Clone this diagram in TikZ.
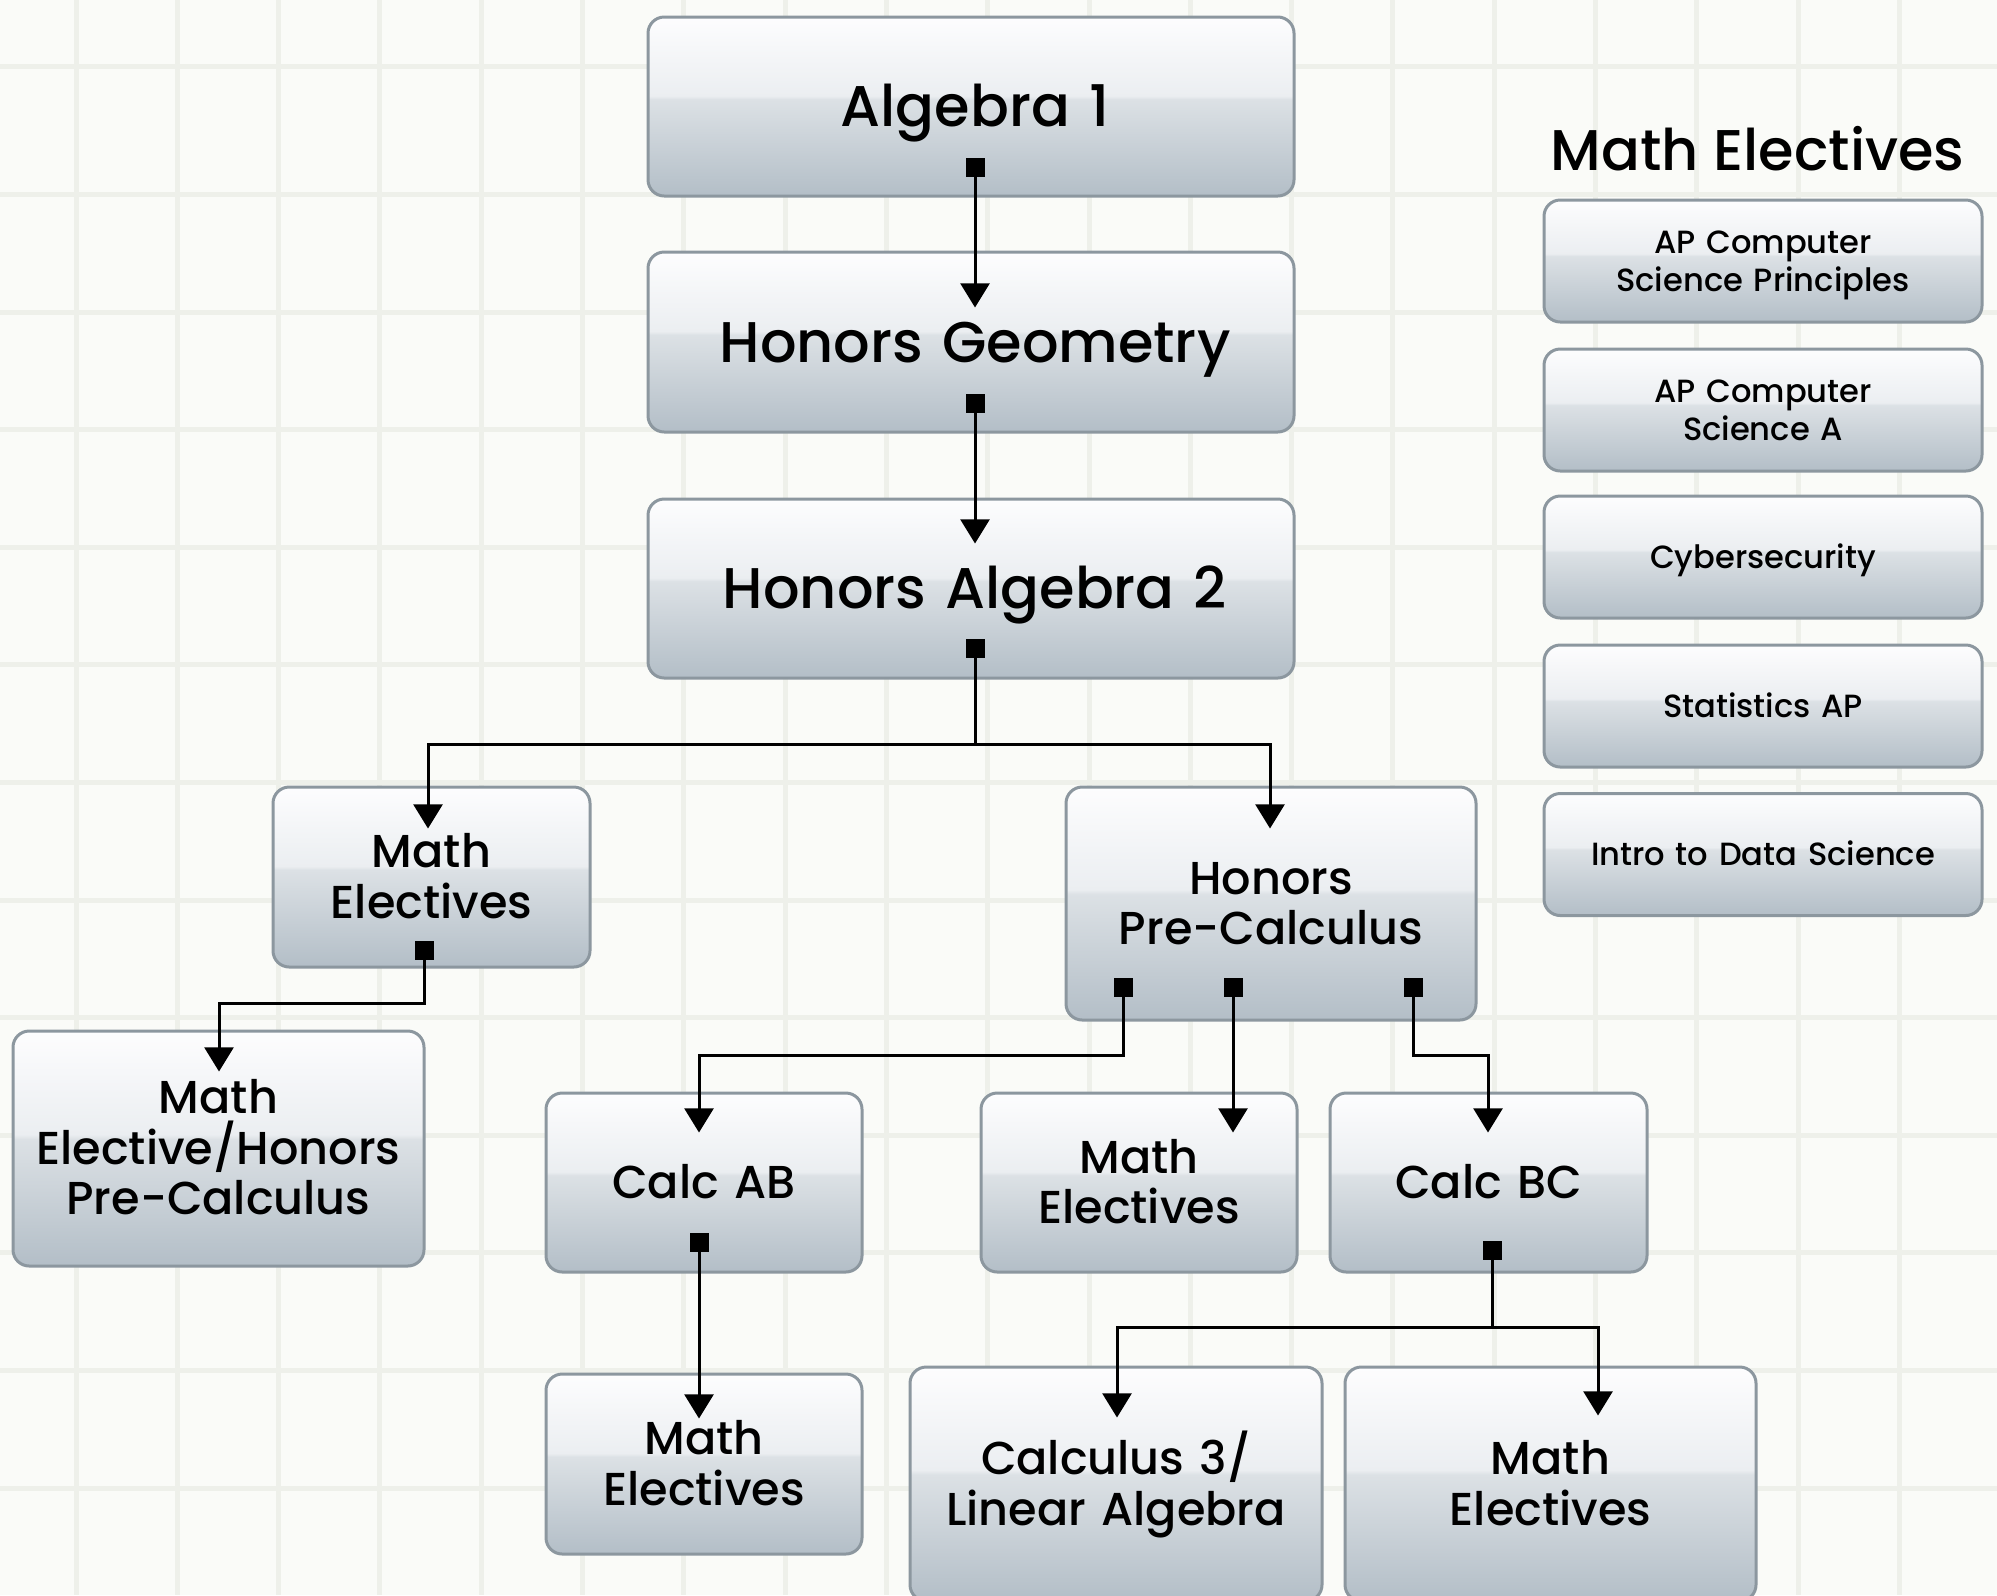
\documentclass[tikz,border=0pt]{standalone}
\usepackage{fontspec}
\setmainfont{Poppins Medium}
\usetikzlibrary{arrows.meta,calc}
\definecolor{bgcol}{HTML}{FAFBF8}
\definecolor{gridcol}{HTML}{EEF0EA}
\definecolor{bordcol}{HTML}{8C979F}
\definecolor{shB}{HTML}{B3BEC7}
\definecolor{shC}{HTML}{DCE1E5}
\definecolor{shD}{HTML}{EBEEF1}
\definecolor{shT}{HTML}{FDFDFE}
\pgfdeclareverticalshading{boxsh}{100bp}{color(0bp)=(shB); color(25bp)=(shB); color(52bp)=(shC); color(53bp)=(shD); color(75bp)=(shT); color(100bp)=(shT)}
\begin{document}
\begin{tikzpicture}[x=0.4pt,y=-0.4pt,
  gridl/.style={draw=gridcol,line width=2pt},
  box/.style 2 args={draw=bordcol,line width=1.2pt,rounded corners=6.5pt,shade,shading=boxsh,
     inner sep=0pt,minimum width=#1*0.4pt,minimum height=#2*0.4pt,text width=#1*0.4pt-6pt,align=center},
  bigtxt/.style={font=\fontsize{22.95}{26}\selectfont,text height=16.2pt,text depth=0pt},
  medone/.style={font=\fontsize{18.45}{20.2}\selectfont,text height=12.6pt,text depth=0pt},
  medtwo/.style={font=\fontsize{18.45}{20.2}\selectfont,text height=12.6pt,text depth=20.2pt},
  medthree/.style={font=\fontsize{18.45}{20.2}\selectfont,text height=12.6pt,text depth=40.4pt},
  smone/.style={font=\fontsize{12.85}{15.1}\selectfont,text height=8.9pt,text depth=0pt},
  smtwo/.style={font=\fontsize{12.85}{15.1}\selectfont,text height=8.9pt,text depth=15.1pt},
  conn/.style={draw=black,line width=1.2pt},
  sqa/.style={conn,{Square[length=7.6pt,width=7.6pt]}-},
  tra/.style={conn,-{Triangle[length=9.7pt,width=11.6pt]}},
  sqtra/.style={conn,{Square[length=7.6pt,width=7.6pt]}-{Triangle[length=9.7pt,width=11.6pt]}}
]
\useasboundingbox (0,0) rectangle (1997,1595);
\fill[bgcol] (0,0) rectangle (1997,1595);
\foreach \k in {0,...,18} \draw[gridl] ({76+101.3*\k},0) -- ({76+101.3*\k},1595);
\draw[gridl] (0,66) -- (1997,66);
\foreach \k in {-1,...,10} \draw[gridl] (0,{312+117.6*\k}) -- (1997,{312+117.6*\k});

% main column
\node[box={646}{179},bigtxt] (alg) at (971,106.5) {\hspace*{3.2pt}Algebra 1};
\node[box={646}{180},bigtxt] (hg) at (971,342) {\hspace*{3.2pt}Honors Geometry};
\node[box={646}{179},bigtxt] (ha2) at (971,588.5) {\hspace*{3.2pt}Honors Algebra 2};
\node[box={317}{180},medtwo] (me1) at (431.5,877) {Math\\Electives};
\node[box={410}{233},medtwo] (hpc) at (1271,903.5) {Honors\\Pre-Calculus};
\node[box={411}{235},medthree] (meh) at (218.5,1148.5) {Math\\Elective/Honors\\Pre-Calculus};
\node[box={316}{179},medone] (cab) at (704,1182.5) {Calc AB};
\node[box={316}{179},medtwo] (me2) at (1139,1182.5) {Math\\Electives};
\node[box={317}{179},medone] (cbc) at (1488.5,1182.5) {Calc BC};
\node[box={316}{180},medtwo] (me3) at (704,1464) {Math\\Electives};
\node[box={412}{234},medtwo] (c3) at (1116,1484) {Calculus 3/\\Linear Algebra};
\node[box={411}{234},medtwo] (me4) at (1550.5,1484) {Math\\Electives};

% right column
\node[anchor=base,font=\fontsize{22.95}{26}\selectfont] (ttl) at (1757.5,170.7) {Math Electives};
\node[box={438}{122},smtwo] (r1) at (1763,261) {AP Computer\\Science Principles};
\node[box={438}{122},smtwo] (r2) at (1763,410) {AP Computer\\Science A};
\node[box={438}{122},smone] (r3) at (1763,557) {Cybersecurity};
\node[box={438}{122},smone] (r4) at (1763,706) {Statistics AP};
\node[box={438}{122},smone] (r5) at (1763,854.5) {Intro to Data Science};

% connectors
\draw[sqtra] ($(alg.south)+(4,-39.5)$) -- ($(hg.north)+(4,57)$);
\draw[sqtra] ($(hg.south)+(4,-39.5)$) -- ($(ha2.north)+(4,46)$);
\coordinate (j1) at ($(ha2.south)+(4,64.5)$);
\draw[sqa] ($(ha2.south)+(4,-40.5)$) -- (j1);
\draw[tra] (j1) -| ($(me1.north)+(-3.5,43)$);
\draw[tra] (j1) -| ($(hpc.north)+(-1,43)$);
\draw[sqtra] ($(me1.south)+(-7.5,-27.5)$) -- ++(0,62.5) -| ($(meh.north)+(0.5,42)$);
\draw[sqtra] ($(hpc.south)+(-148,-43.5)$) -- ++(0,77.5) -| ($(cab.north)+(-5,41)$);
\draw[sqtra] ($(hpc.south)+(-38,-43.5)$) -- ($(me2.north)+(94,41)$);
\draw[sqtra] ($(hpc.south)+(142.5,-43.5)$) -- ++(0,77.5) -| ($(cbc.north)+(-0.5,41)$);
\draw[sqtra] ($(cab.south)+(-5,-41)$) -- ($(me3.north)+(-5,46)$);
\coordinate (j2) at ($(cbc.south)+(3.5,54)$);
\draw[sqa] ($(cbc.south)+(3.5,-32.5)$) -- (j2);
\draw[tra] (j2) -| ($(c3.north)+(1,52)$);
\draw[tra] (j2) -| ($(me4.north)+(47.5,50)$);
\end{tikzpicture}
\end{document}
